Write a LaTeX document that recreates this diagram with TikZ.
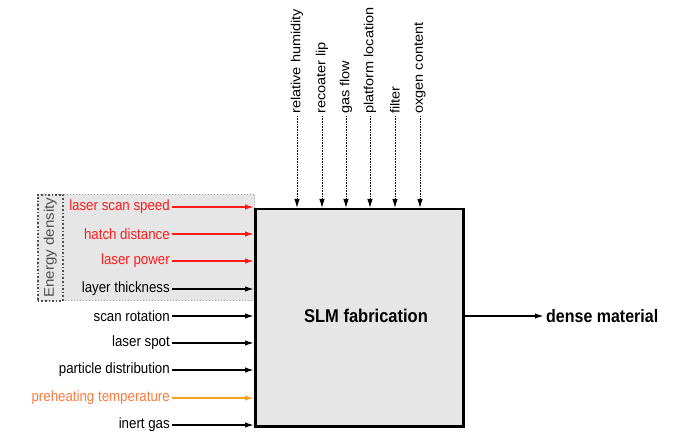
\documentclass[tikz,border=0pt]{standalone}
\usepackage{fontspec}
\usepackage{graphicx}
\setmainfont{Liberation Sans}
\usetikzlibrary{arrows.meta}
\definecolor{boxgray}{HTML}{E6E6E6}
\definecolor{lred}{HTML}{FF1A1A}
\definecolor{ltxtorange}{HTML}{FF7A3D}
\definecolor{larrorange}{HTML}{F6A21E}
\definecolor{edgray}{HTML}{505050}
\newcommand\vstretch[1]{\scalebox{1}[1.12]{#1}}
\newcommand\lstretch[1]{\scalebox{1.1}[1]{#1}}
\tikzset{
  x=1pt, y=-1pt,
  inlabel/.style={anchor=east, inner sep=2pt, font=\fontsize{13.3}{15}\selectfont},
  toplabel/.style={anchor=west, rotate=90, inner sep=2pt, font=\fontsize{13.2}{15}\selectfont},
  inarrow/.style={-{Latex[length=9pt,width=5.5pt]}, line width=1.5pt},
  toparrow/.style={-{Latex[length=9pt,width=5.5pt]}, line width=1pt, dash pattern=on 0.8pt off 0.8pt},
}
\begin{document}
\begin{tikzpicture}
\useasboundingbox (0,0) rectangle (694,433);
% energy density region
\node[draw=gray!70, dotted, line width=1pt, fill=boxgray, minimum width=217pt, minimum height=106pt, inner sep=0pt, anchor=north west] (edregion) at (37,194) {};
\node[draw=edgray, dotted, line width=1.6pt, minimum width=25pt, minimum height=106pt, inner sep=0pt, anchor=north west] (edbox) at (37,194) {};
\node[rotate=90, text=edgray, font=\fontsize{14}{16}\selectfont] (edlabel) at (edbox.center) {\scalebox{1.08}[1]{Energy density}};
% main box
\node[draw=black, line width=2.5pt, fill=boxgray, minimum width=208pt, minimum height=217pt, inner sep=0pt, anchor=north west] (box) at (254,208) {};
\node[font=\bfseries\fontsize{16.5}{19}\selectfont] (slm) at (366,316) {\vstretch{SLM fabrication}};
% left inputs
\node[inlabel, text=lred] (l1) at (172,207) {\vstretch{laser scan speed}};
\node[inlabel, text=lred] (l2) at (172,234) {\vstretch{hatch distance}};
\node[inlabel, text=lred] (l3) at (172,261) {\vstretch{laser power}};
\node[inlabel] (l4) at (172,289) {\vstretch{layer thickness}};
\node[inlabel] (l5) at (172,316) {\vstretch{scan rotation}};
\node[inlabel] (l6) at (172,343) {\vstretch{laser spot}};
\node[inlabel] (l7) at (172,370) {\vstretch{particle distribution}};
\node[inlabel, text=ltxtorange] (l8) at (172,398) {\vstretch{preheating temperature}};
\node[inlabel] (l9) at (172,425) {\vstretch{inert gas}};
\foreach \n/\c in {l1/lred,l2/lred,l3/lred,l4/black,l5/black,l6/black,l7/black,l8/larrorange,l9/black}
  \draw[inarrow, draw=\c] (\n.east) -- (\n.east -| box.west);
% top inputs
\node[toplabel] (t1) at (297,116) {\lstretch{relative humidity}};
\node[toplabel] (t2) at (322,116) {\lstretch{recoater lip}};
\node[toplabel] (t3) at (346,116) {\lstretch{gas flow}};
\node[toplabel] (t4) at (370,116) {\lstretch{platform location}};
\node[toplabel] (t5) at (395,116) {\lstretch{filter}};
\node[toplabel] (t6) at (420,116) {\lstretch{oxgen content}};
\foreach \n in {t1,t2,t3,t4,t5,t6}
  \draw[toparrow] (\n.west) -- (\n.west |- box.north);
% output
\node[anchor=west, inner sep=2pt, font=\bfseries\fontsize{16}{19}\selectfont] (out) at (544,316) {\vstretch{dense material}};
\draw[inarrow] (box.east |- out.west) -- (out.west);
\end{tikzpicture}
\end{document}
